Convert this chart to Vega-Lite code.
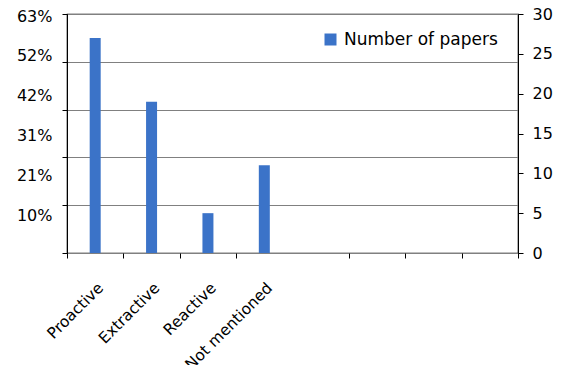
{
  "$schema": "https://vega.github.io/schema/vega-lite/v6.json",
  "width": 451,
  "height": 239,
  "autosize": "none",
  "padding": {"left": 67, "top": 14, "right": 50, "bottom": 112},
  "background": "white",
  "config": {
    "font": "DejaVu Sans",
    "view": {"stroke": "black", "strokeWidth": 1.2},
    "axis": {"labelColor": "black", "title": null}
  },
  "data": {
    "values": [
      {"approach": "Proactive", "papers": 27},
      {"approach": "Extractive", "papers": 19},
      {"approach": "Reactive", "papers": 5},
      {"approach": "Not mentioned", "papers": 11}
    ]
  },
  "encoding": {
    "x": {
      "field": "approach",
      "type": "nominal",
      "sort": null,
      "scale": {
        "domain": ["Proactive", "Extractive", "Reactive", "Not mentioned", " ", "  ", "   ", "    "],
        "paddingInner": 0,
        "paddingOuter": 0
      },
      "axis": {
        "domain": false,
        "ticks": true,
        "tickBand": "extent",
        "tickSize": 5,
        "tickColor": "black",
        "tickOpacity": {"condition": {"test": "datum.value === 'Not mentioned'", "value": 0}, "value": 1},
        "labelAngle": -45,
        "labelFontSize": 15.5,
        "labelPadding": 22,
        "labelLimit": 300,
        "title": null
      }
    }
  },
  "layer": [
    {
      "mark": {"type": "bar", "width": 11},
      "encoding": {
        "y": {
          "field": "papers",
          "type": "quantitative",
          "scale": {"domain": [0, 30], "nice": false},
          "axis": {
            "orient": "left",
            "values": [0, 6, 12, 18, 24, 30],
            "grid": true,
            "gridColor": "#808080",
            "gridWidth": 1.2,
            "labels": false,
            "ticks": true,
            "tickSize": 5,
            "tickColor": "black",
            "domain": true,
            "domainColor": "black",
            "title": null
          }
        },
        "color": {
          "datum": "Number of papers",
          "type": "nominal",
          "scale": {"range": ["#3b73c8"]},
          "legend": {
            "orient": "none",
            "legendX": 255,
            "legendY": 17,
            "title": null,
            "padding": 0,
            "symbolType": "square",
            "symbolSize": 144,
            "symbolStrokeWidth": 0,
            "labelFontSize": 17,
            "labelColor": "black",
            "labelOffset": 5
          }
        }
      }
    },
    {
      "mark": {"type": "bar", "opacity": 0},
      "encoding": {
        "y": {
          "field": "papers",
          "type": "quantitative",
          "axis": {
            "orient": "left",
            "values": [5, 10, 15, 20, 25, 30],
            "labelExpr": "datum.value == 30 ? '63%' : datum.value == 25 ? '52%' : datum.value == 20 ? '42%' : datum.value == 15 ? '31%' : datum.value == 10 ? '21%' : '10%'",
            "labelFontSize": 16,
            "labelPadding": 15,
            "labelOffset": 2,
            "ticks": false,
            "tickSize": 0,
            "domain": false,
            "grid": false,
            "title": null
          }
        }
      }
    },
    {
      "mark": {"type": "bar", "opacity": 0},
      "encoding": {
        "y": {
          "field": "papers",
          "type": "quantitative",
          "axis": {
            "orient": "right",
            "values": [0, 5, 10, 15, 20, 25, 30],
            "labelFontSize": 16,
            "labelPadding": 9,
            "ticks": true,
            "tickSize": 5,
            "tickColor": "black",
            "domain": true,
            "domainColor": "black",
            "grid": false,
            "title": null
          }
        }
      }
    }
  ],
  "resolve": {"axis": {"y": "independent"}}
}
